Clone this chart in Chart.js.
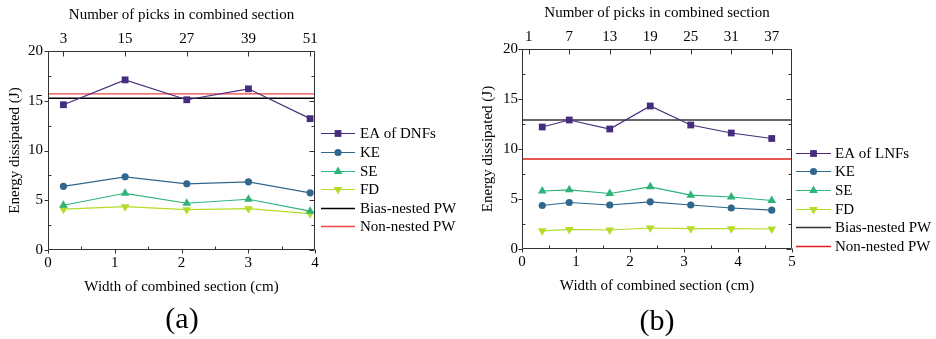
<!DOCTYPE html>
<html><head><meta charset="utf-8">
<script src="https://cdn.jsdelivr.net/npm/chart.js@4/dist/chart.umd.min.js"></script>
<style>
html,body{margin:0;padding:0;background:#fff;}
#wrap{position:relative;width:936px;height:339px;overflow:hidden;background:#fff;}
.box{position:absolute;top:0;width:468px;height:339px;}
.lab{position:absolute;font:30px "Liberation Serif","Times New Roman",serif;line-height:30px;text-align:center;width:100px;color:#000;}
</style></head><body>
<div id="wrap">
  <div class="box" style="left:0"><canvas id="ca" width="468" height="339"></canvas></div>
  <div class="box" style="left:468px"><canvas id="cb" width="468" height="339"></canvas></div>
  <div class="lab" style="left:132px;top:303px">(a)</div>
  <div class="lab" style="left:607px;top:305px">(b)</div>
</div>
<script>
// ---------- data: panel (a) ----------
const widthsA = [0.231, 1.155, 2.079, 3.003, 3.927];
const picksTicksA = [3, 15, 27, 39, 51];
const cmPerPickA = 0.077;
const eaDNF = [14.6, 17.1, 15.1, 16.2, 13.2];
const keA = [6.4, 7.35, 6.65, 6.85, 5.75];
const seA = [4.5, 5.7, 4.7, 5.1, 3.9];
const fdA = [4.1, 4.35, 4.05, 4.15, 3.65];
const biasA = 15.25;
const nonA = 15.7;
const xMaxA = 4;

// ---------- data: panel (b) ----------
const widthsB = [0.375, 0.875, 1.625, 2.375, 3.125, 3.875, 4.625];
const picksTicksB = [1, 7, 13, 19, 25, 31, 37];
const cmPerPickB = 0.125;
const eaLNF = [12.2, 12.9, 12.0, 14.3, 12.4, 11.6, 11.05];
const keB = [4.35, 4.65, 4.4, 4.72, 4.4, 4.1, 3.88];
const seB = [5.8, 5.92, 5.55, 6.22, 5.38, 5.2, 4.85];
const fdB = [1.82, 1.96, 1.9, 2.1, 2.03, 2.03, 2.0];
const biasB = 12.9;
const nonB = 9.0;
const xMaxB = 5;

const yMax = 20;

Chart.defaults.font.family = '"Liberation Serif","Times New Roman",serif';
Chart.defaults.font.size = 15;
Chart.defaults.color = '#000';

const COLORS = {ea:'#452c7e', ke:'#30678d', se:'#2db47a', fd:'#b4dc28'};

function pts(xs, ys){ return xs.map((x,i)=>({x:x, y:ys[i]})); }
function hline(v, xmax){ return [{x:0,y:v},{x:xmax,y:v}]; }

function series(label, xs, ys, color, style, radius, rot){
  return {label, data:pts(xs,ys), borderColor:color, backgroundColor:color,
    pointBackgroundColor:color, pointBorderColor:color, pointBorderWidth:0,
    borderWidth:1.2, pointStyle:style, pointRadius:radius, pointRotation:rot||0,
    tension:0, xAxisID:'x', yAxisID:'y'};
}
function flat(label, v, xmax, color){
  return {label, data:hline(v,xmax), borderColor:color, backgroundColor:color,
    borderWidth:1.3, pointRadius:0, tension:0, xAxisID:'x', yAxisID:'y'};
}

const framePlugin = {
  id:'frame',
  afterDraw(chart, args, o){
    const {ctx, chartArea:a, scales} = chart;
    const L = Math.round(a.left)+0.5, R = Math.round(a.right)-0.5, T = Math.round(a.top)+0.5, B = Math.round(a.bottom)-0.5;
    ctx.save();
    ctx.strokeStyle = o.color; ctx.lineWidth = 1;
    ctx.beginPath();
    ctx.rect(L, T, R-L, B-T);
    const ym = scales.y.ticks.map(t=>t.value);
    const xm = scales.x.ticks.map(t=>t.value);
    ym.forEach((v,i)=>{
      const y = Math.round(scales.y.getPixelForValue(v))+0.5;
      ctx.moveTo(L-4,y); ctx.lineTo(L,y);
      ctx.moveTo(R-5,y); ctx.lineTo(R,y);
      if(i<ym.length-1){
        const y2 = Math.round(scales.y.getPixelForValue((v+ym[i+1])/2))+0.5;
        ctx.moveTo(L,y2); ctx.lineTo(L+3,y2);
        ctx.moveTo(R-3,y2); ctx.lineTo(R,y2);
      }
    });
    xm.forEach((v,i)=>{
      const x = Math.round(scales.x.getPixelForValue(v))+0.5;
      ctx.moveTo(x,B); ctx.lineTo(x,B+4);
      if(i<xm.length-1){
        const x2 = Math.round(scales.x.getPixelForValue((v+xm[i+1])/2))+0.5;
        ctx.moveTo(x2,B); ctx.lineTo(x2,B-3);
      }
    });
    scales.x2.ticks.forEach(t=>{
      const x = Math.round(scales.x2.getPixelForValue(t.value))+0.5;
      ctx.moveTo(x,T); ctx.lineTo(x,T+5);
    });
    ctx.stroke();
    ctx.restore();
  }
};

const legendPlugin = {
  id:'sideLegend',
  afterDraw(chart, args, o){
    const {ctx, chartArea:a} = chart;
    ctx.save();
    ctx.font = '15px "Liberation Serif","Times New Roman",serif';
    ctx.textBaseline = 'middle';
    ctx.textAlign = 'left';
    chart.data.datasets.forEach((ds,i)=>{
      const y = Math.round(a.top + o.top + i*o.row)+0.5;
      const x0 = a.right + o.dx;
      ctx.strokeStyle = ds.borderColor; ctx.lineWidth = ds.borderWidth;
      ctx.beginPath(); ctx.moveTo(x0,y); ctx.lineTo(x0+o.len,y); ctx.stroke();
      if(ds.pointRadius>0){
        ctx.fillStyle = ds.pointBackgroundColor;
        Chart.helpers.drawPoint(ctx, {pointStyle:ds.pointStyle, rotation:ds.pointRotation||0, radius:ds.pointRadius, borderWidth:0}, x0+o.len/2, y);
      }
      ctx.fillStyle = '#000';
      ctx.fillText(ds.label, x0+o.len+o.gap, y+1);
    });
    ctx.restore();
  }
};

function makeChart(id, cfg){
  return new Chart(document.getElementById(id), {
    type:'line',
    data:{datasets:cfg.datasets},
    options:{
      responsive:false, animation:false, devicePixelRatio:1,
      layout:{padding:{left:0,right:cfg.padRight,top:0,bottom:cfg.padBottom}},
      plugins:{legend:{display:false}, tooltip:{enabled:false},
        frame:{color:'#333'},
        sideLegend:cfg.legend},
      scales:{
        x:{type:'linear', position:'bottom', min:0, max:cfg.xMax,
          ticks:{stepSize:1, padding:4, maxRotation:0},
          grid:{display:false, drawTicks:false}, border:{display:false},
          title:{display:true, text:'Width of combined section (cm)', padding:{top:0,bottom:0}},
          afterFit:s=>{s.height=46;}},
        x2:{type:'linear', position:'top', min:0, max:cfg.xMax/cfg.cmPerPick,
          afterBuildTicks:s=>{s.ticks = cfg.picksTicks.map(v=>({value:v}));},
          ticks:{padding:3, maxRotation:0, autoSkip:false},
          grid:{display:false, drawTicks:false}, border:{display:false},
          title:{display:true, text:'Number of picks in combined section', padding:{top:cfg.topTitlePad,bottom:0}},
          afterFit:s=>{s.height=cfg.topH;}},
        y:{type:'linear', position:'left', min:0, max:yMax,
          ticks:{stepSize:5, padding:cfg.yTickPad},
          grid:{display:false, drawTicks:false}, border:{display:false},
          title:{display:true, text:'Energy dissipated (J)', padding:{top:cfg.yTitlePad,bottom:0}},
          afterFit:s=>{s.width=cfg.yW;}}
      }
    },
    plugins:[framePlugin, legendPlugin]
  });
}

makeChart('ca', {
  xMax:xMaxA, cmPerPick:cmPerPickA, picksTicks:picksTicksA,
  padRight:153, padBottom:43, topH:51, topTitlePad:6, yW:48, yTickPad:5, yTitlePad:6,
  legend:{dx:6, len:34, gap:5, top:82.3, row:18.6},
  datasets:[
    series('EA of DNFs', widthsA, eaDNF, COLORS.ea, 'rect', 4.8),
    series('KE', widthsA, keA, COLORS.ke, 'circle', 3.6),
    series('SE', widthsA, seA, COLORS.se, 'triangle', 5),
    series('FD', widthsA, fdA, COLORS.fd, 'triangle', 5, 180),
    flat('Bias-nested PW', biasA, xMaxA, '#000000'),
    flat('Non-nested PW', nonA, xMaxA, '#f04545')
  ]
});

makeChart('cb', {
  xMax:xMaxB, cmPerPick:cmPerPickB, picksTicks:picksTicksB,
  padRight:144, padBottom:44, topH:49, topTitlePad:4, yW:54, yTickPad:4, yTitlePad:11,
  legend:{dx:4, len:35, gap:4, top:103.7, row:18.6},
  datasets:[
    series('EA of LNFs', widthsB, eaLNF, COLORS.ea, 'rect', 4.8),
    series('KE', widthsB, keB, COLORS.ke, 'circle', 3.6),
    series('SE', widthsB, seB, COLORS.se, 'triangle', 5),
    series('FD', widthsB, fdB, COLORS.fd, 'triangle', 5, 180),
    flat('Bias-nested PW', biasB, xMaxB, '#333333'),
    flat('Non-nested PW', nonB, xMaxB, '#e01e1e')
  ]
});
</script>
</body></html>
